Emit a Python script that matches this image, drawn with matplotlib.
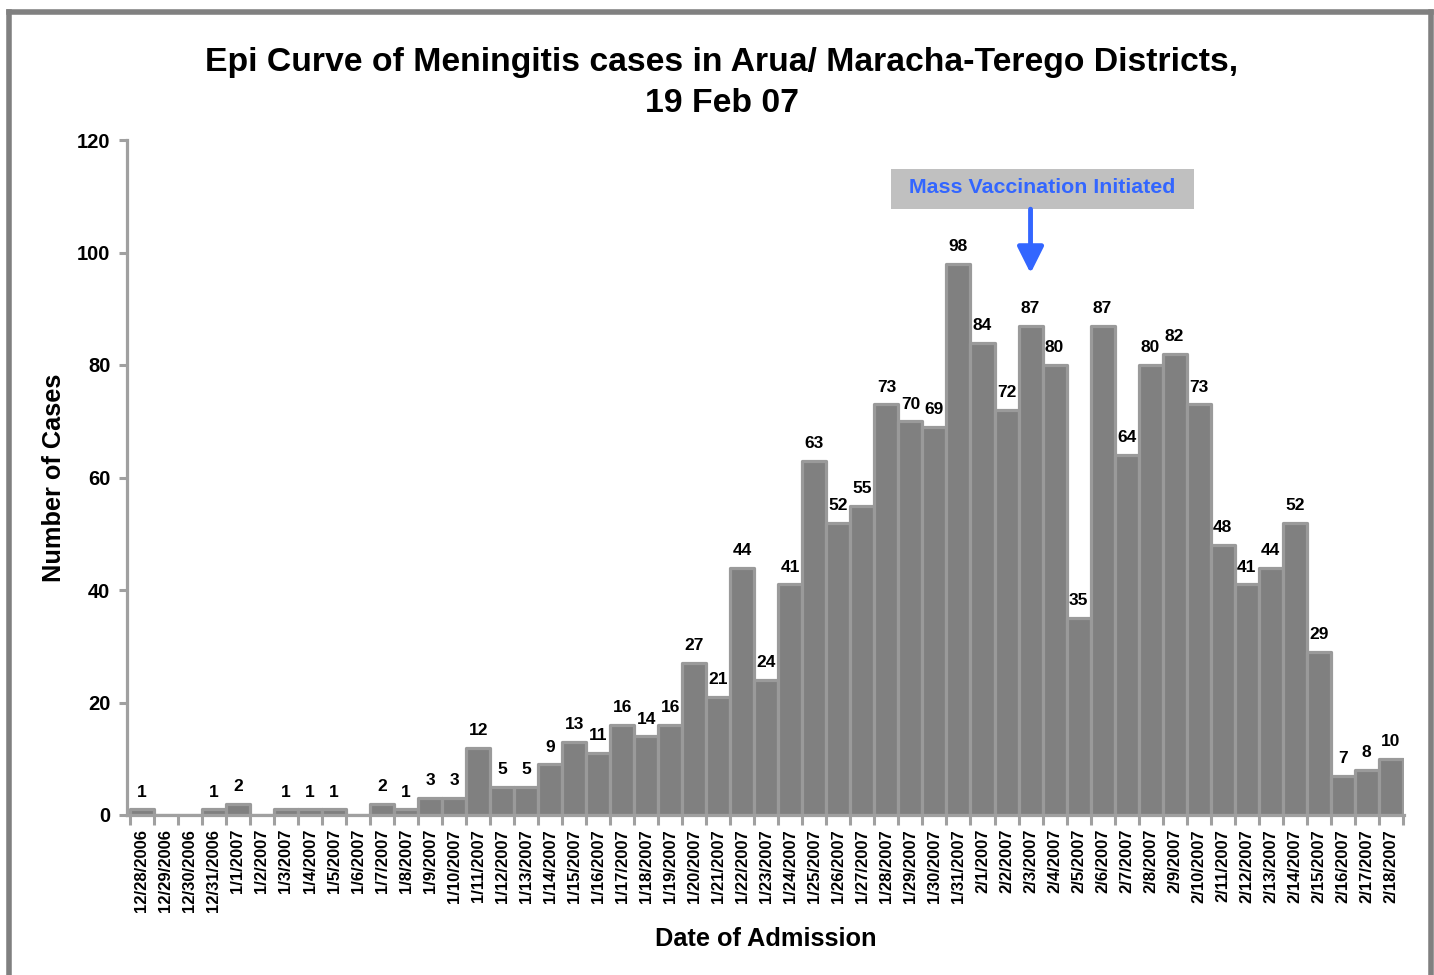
import matplotlib
matplotlib.use("Agg")
import matplotlib.pyplot as plt
from matplotlib.patches import Rectangle
from matplotlib.lines import Line2D

plt.rcParams['font.family'] = ['Liberation Sans', 'DejaVu Sans']

dates = ["12/28/2006", "12/29/2006", "12/30/2006", "12/31/2006",
         "1/1/2007", "1/2/2007", "1/3/2007", "1/4/2007", "1/5/2007", "1/6/2007",
         "1/7/2007", "1/8/2007", "1/9/2007", "1/10/2007", "1/11/2007", "1/12/2007",
         "1/13/2007", "1/14/2007", "1/15/2007", "1/16/2007", "1/17/2007", "1/18/2007",
         "1/19/2007", "1/20/2007", "1/21/2007", "1/22/2007", "1/23/2007", "1/24/2007",
         "1/25/2007", "1/26/2007", "1/27/2007", "1/28/2007", "1/29/2007", "1/30/2007",
         "1/31/2007", "2/1/2007", "2/2/2007", "2/3/2007", "2/4/2007", "2/5/2007",
         "2/6/2007", "2/7/2007", "2/8/2007", "2/9/2007", "2/10/2007", "2/11/2007",
         "2/12/2007", "2/13/2007", "2/14/2007", "2/15/2007", "2/16/2007", "2/17/2007",
         "2/18/2007"]
cases = [1, 0, 0, 1, 2, 0, 1, 1, 1, 0, 2, 1, 3, 3, 12, 5, 5, 9, 13, 11, 16, 14,
         16, 27, 21, 44, 24, 41, 63, 52, 55, 73, 70, 69, 98, 84, 72, 87, 80, 35,
         87, 64, 80, 82, 73, 48, 41, 44, 52, 29, 7, 8, 10]
vaccination_date = "2/3/2007"
y_ticks = [0, 20, 40, 60, 80, 100, 120]

W, H = 1434, 975
fig = plt.figure(figsize=(W / 100, H / 100), dpi=100)
ax = fig.add_axes([127 / W, 160 / H, (1404 - 127) / W, (815 - 140) / H])

x = list(range(len(dates)))
ax.bar(x, cases, width=1.0, color='#808080', edgecolor='#9a9a9a', linewidth=2.3,
       joinstyle='round')

for xi, v in zip(x, cases):
    if v > 0:
        ax.annotate(str(v), (xi, v), xytext=(0, 7), textcoords='offset points',
                    ha='center', va='bottom', fontsize=12.5, fontweight='bold')

ax.set_xlim(-0.62, len(dates) - 0.45)
ax.set_ylim(0, 120)
ax.set_yticks(y_ticks)
ax.set_xticks(x)
ax.set_xticklabels(dates, rotation=90, fontsize=12, fontweight='bold')
ax.set_xticks([i - 0.5 for i in x] + [len(dates) - 0.5], minor=True)
ax.tick_params(axis='x', which='major', length=0, pad=10)
ax.tick_params(axis='x', which='minor', length=7, width=2.2, color='#a0a0a0', direction='out')
ax.tick_params(axis='y', length=6, width=2.2, color='#a0a0a0', labelsize=14.5, pad=6)
for lab in ax.get_yticklabels():
    lab.set_fontweight('bold')

for s in ['top', 'right']:
    ax.spines[s].set_visible(False)
for s in ['left', 'bottom']:
    ax.spines[s].set_color('#a0a0a0')
    ax.spines[s].set_linewidth(2.3)

ax.set_xlabel('Date of Admission', fontsize=18.3, fontweight='bold', labelpad=11)
ax.set_ylabel('Number of Cases', fontsize=18.3, fontweight='bold', labelpad=8)

fig.text(0.5035, 1 - 63 / H, 'Epi Curve of Meningitis cases in Arua/ Maracha-Terego Districts,',
         ha='center', va='center', fontsize=24.3, fontweight='bold')
fig.text(0.5035, 1 - 104 / H, '19 Feb 07', ha='center', va='center',
         fontsize=24.3, fontweight='bold')

# annotation box + arrow
vx = dates.index(vaccination_date)
ax.add_patch(Rectangle((vx - 5.8, 107.7), 12.6, 7.1, facecolor='#c0c0c0',
                       edgecolor='none', clip_on=False, zorder=5))
ax.text(vx + 0.5, 111.5, 'Mass Vaccination Initiated', ha='center', va='center',
        fontsize=15.4, fontweight='bold', color='#3366ff', zorder=6)
ax.annotate('', xy=(vx, 96.3), xytext=(vx, 107.7),
            arrowprops=dict(arrowstyle='-|>,head_width=0.4,head_length=0.8',
                            color='#3366ff', lw=3.5, mutation_scale=20,
                            shrinkA=0, shrinkB=0), zorder=6)

# outer frame
fc = '#808080'
fig.add_artist(Line2D([9 / W, 1431 / W], [1 - 12 / H, 1 - 12 / H], color=fc, lw=4,
                      transform=fig.transFigure, solid_capstyle='projecting'))
fig.add_artist(Line2D([9 / W, 9 / W], [0, 1 - 12 / H], color=fc, lw=4,
                      transform=fig.transFigure))
fig.add_artist(Line2D([1431 / W, 1431 / W], [0, 1 - 12 / H], color=fc, lw=4,
                      transform=fig.transFigure))

fig.savefig('out.png', dpi=100)
